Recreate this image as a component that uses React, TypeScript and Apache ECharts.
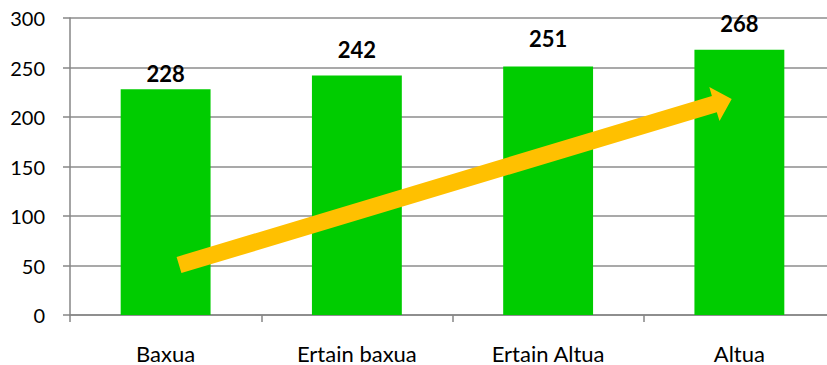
import React, { useEffect, useRef } from "react";
import * as echarts from "echarts";

const categories = ["Baxua", "Ertain baxua", "Ertain Altua", "Altua"];
const values = [228, 242, 251, 268];
const yTicks = { min: 0, max: 300, interval: 50 };

// decorative trend arrow (pixel polygon)
const arrowPoints = [
  [176.6, 256.9],
  [711.9, 96.0],
  [709.3, 87.1],
  [731.7, 99.0],
  [719.5, 121.0],
  [716.8, 112.2],
  [181.4, 273.1],
];

const FONT = "Lato, 'Liberation Sans', sans-serif";
const LABEL_GAPS = [5, 15, 17, 15];

export default function App() {
  const ref = useRef<HTMLDivElement>(null);
  useEffect(() => {
    if (!ref.current) return;
    const chart = echarts.init(ref.current, undefined, { renderer: "svg" });
    chart.setOption({
      animation: false,
      backgroundColor: "#ffffff",
      grid: {
        left: 70,
        top: 18,
        width: 765,
        height: 297,
        containLabel: false,
        outerBoundsMode: "none",
      },
      xAxis: {
        type: "category",
        data: categories,
        axisLine: { show: true, lineStyle: { color: "#868686", width: 1.5 } },
        axisTick: { show: true, length: 7, lineStyle: { color: "#868686", width: 1.5 } },
        axisLabel: { color: "#000", fontSize: 22, fontFamily: FONT, margin: 27 },
        splitLine: { show: false },
      },
      yAxis: {
        type: "value",
        min: yTicks.min,
        max: yTicks.max,
        interval: yTicks.interval,
        axisLine: { show: true, lineStyle: { color: "#868686", width: 1.5 } },
        axisTick: { show: true, length: 7, lineStyle: { color: "#868686", width: 1.5 } },
        axisLabel: { color: "#000", fontSize: 20, fontFamily: FONT, margin: 25 },
        splitLine: { show: true, lineStyle: { color: "#8c8c8c", width: 1.5 } },
      },
      series: [
        {
          type: "bar",
          data: values.map((v, i) => ({ value: v, label: { distance: LABEL_GAPS[i] } })),
          barWidth: "47%",
          itemStyle: { color: "#00CC00" },
          label: {
            show: true,
            position: "top",
            distance: 5,
            color: "#000",
            fontWeight: "bold",
            fontSize: 22,
            fontFamily: FONT,
          },
        },
      ],
      graphic: [
        {
          type: "polygon",
          z: 100,
          shape: { points: arrowPoints },
          style: { fill: "#FFC000" },
        },
      ],
    });
    return () => chart.dispose();
  }, []);
  return (
    <div
      ref={ref}
      style={{ position: "fixed", left: 0, top: 0, width: 827, height: 365 }}
    />
  );
}
